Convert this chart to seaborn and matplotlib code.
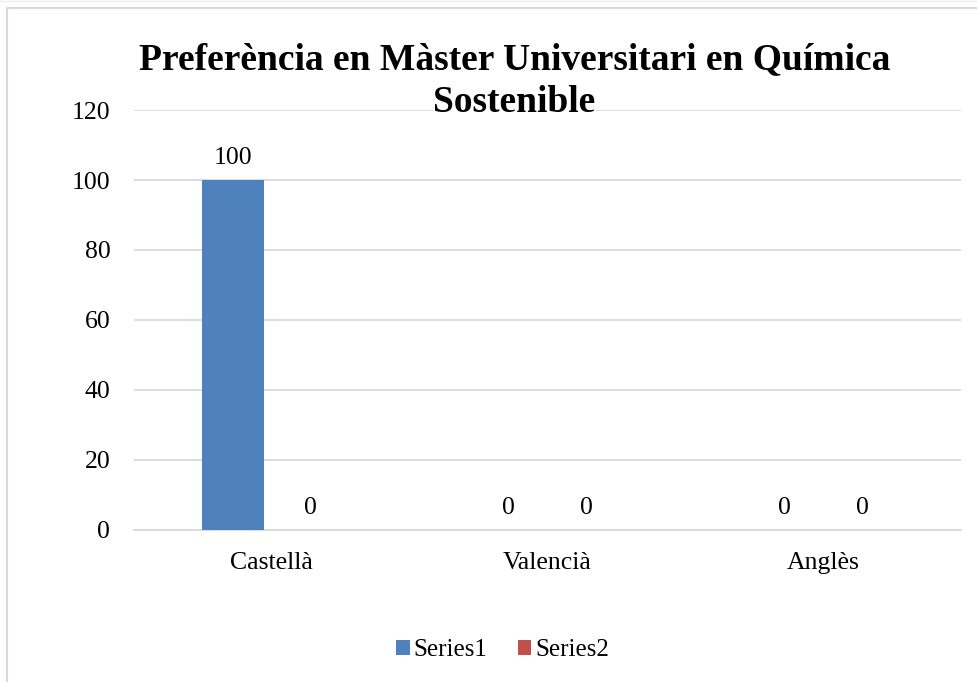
import matplotlib
matplotlib.use("Agg")
import matplotlib.pyplot as plt
from matplotlib.lines import Line2D
import pandas as pd
import seaborn as sns

# ─── Data ─────────────────────────────────────────────────────────────────────
categories = ["Castellà", "Valencià", "Anglès"]
series_names = ["Series1", "Series2"]
series1 = [100, 0, 0]
series2 = [0, 0, 0]
y_ticks = [0, 20, 40, 60, 80, 100, 120]
title_lines = ["Preferència en Màster Universitari en Química", "Sostenible"]

colors = ["#4F81BD", "#C0504D"]
grid_color = "#D9D9D9"

df = pd.DataFrame({
    "category": categories * 2,
    "series": [series_names[0]] * 3 + [series_names[1]] * 3,
    "value": series1 + series2,
})

sns.set_theme(style="white")
plt.rcParams["font.family"] = ["Liberation Serif", "DejaVu Serif"]
plt.rcParams["text.color"] = "#000000"

fig = plt.figure(figsize=(9.78, 6.82), dpi=100)
ax = fig.add_axes([0.137, 0.2229, 0.8456, 0.6158])

sns.barplot(data=df, x="category", y="value", hue="series",
            palette=colors, width=0.566, gap=0.2, saturation=1,
            linewidth=0, ax=ax, legend=True, zorder=3)

for cont in ax.containers:
    ax.bar_label(cont, labels=[f"{v:g}" for v in cont.datavalues],
                 padding=8, fontsize=18.5, color="#000000")

ax.set_ylim(0, 120)
ax.set_yticks(y_ticks)
ax.set_xlim(-0.5, 2.5)
ax.yaxis.grid(True, color=grid_color, linewidth=1.3, zorder=0)
ax.set_axisbelow(True)
for side in ["top", "right", "left"]:
    ax.spines[side].set_visible(False)
ax.spines["bottom"].set_color(grid_color)
ax.spines["bottom"].set_linewidth(1.3)
ax.tick_params(axis="both", length=0, labelsize=18.5, colors="#000000")
ax.tick_params(axis="y", pad=17)
ax.tick_params(axis="x", pad=16)
ax.set_xlabel("")
ax.set_ylabel("")

# legend at the bottom
handles, labels = ax.get_legend_handles_labels()
ax.legend(handles, labels, loc="center", bbox_to_anchor=(0.514, 0.047),
          bbox_transform=fig.transFigure, ncol=2, frameon=False,
          fontsize=18, handlelength=0.55, handleheight=0.55,
          handletextpad=0.15, columnspacing=1.2)

# title, second line has a white background over the 120 gridline
fig.text(0.526, 1 - 60 / 682, title_lines[0], ha="center", va="center",
         fontsize=27, fontweight="bold", color="#000000", zorder=5)
fig.text(0.526, 1 - 102 / 682, title_lines[1], ha="center", va="center",
         fontsize=27, fontweight="bold", color="#000000", zorder=5,
         bbox=dict(facecolor="white", edgecolor="none", pad=0.5))

# chart-area border
fig.add_artist(Line2D([7.5 / 978, 7.5 / 978], [0, 1 - 8 / 682],
                      transform=fig.transFigure, color=grid_color, lw=1.5))
fig.add_artist(Line2D([7.5 / 978, 1], [1 - 8 / 682, 1 - 8 / 682],
                      transform=fig.transFigure, color=grid_color, lw=1.5))
fig.add_artist(Line2D([0, 1], [1 - 0.5 / 682, 1 - 0.5 / 682],
                      transform=fig.transFigure, color="#EEEEEE", lw=1))

fig.savefig("out.png", dpi=100)
plt.close(fig)
